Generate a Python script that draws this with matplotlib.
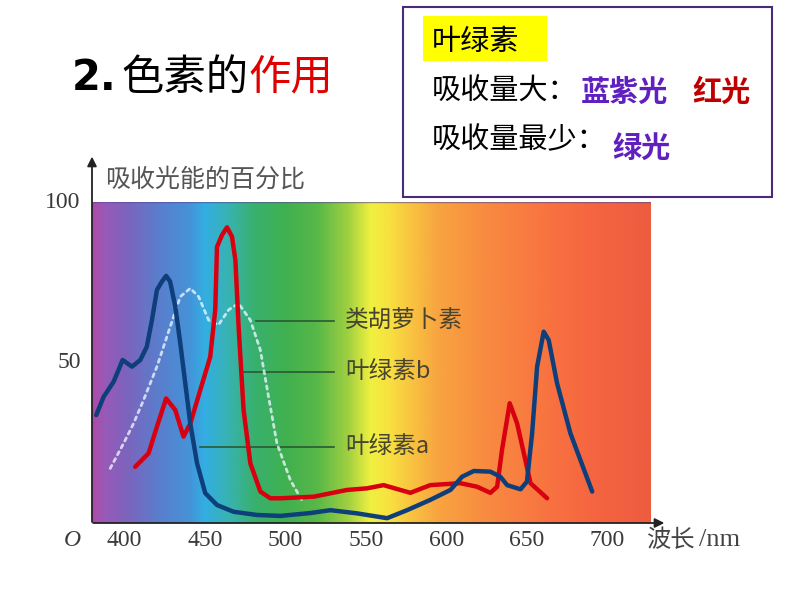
import numpy as np
import matplotlib
matplotlib.use("Agg")
import matplotlib.pyplot as plt
from matplotlib.colors import to_rgb
from matplotlib.patches import Rectangle

plt.rcParams['font.family'] = ['Noto Sans CJK SC', 'DejaVu Sans']

# ---------------- data ----------------
chl_a_nm = [382.6, 387.2, 393.4, 396.5, 399, 404.8, 410, 414, 417.2, 420.3, 423.4, 426, 428.5,
            431.7, 434.8, 437.9, 441, 445.2, 450.3, 457.6, 467.9, 482.4, 497, 503, 515.5, 528,
            544.5, 563.2, 575.6, 590, 602.5, 609.7, 617, 627.3, 633.5, 637.7, 646, 650, 653.2,
            656.3, 660.4, 663.5, 668.7, 677, 690.5]
chl_a_val = [33.6, 39.3, 44.0, 47.7, 50.8, 48.7, 50.8, 54.9, 63.2, 72.6, 75.2, 77, 75.2,
             67.4, 56, 43.5, 31, 18.6, 9.3, 5.6, 3.5, 2.5, 2.2, 2.5, 3.1, 4.0,
             3.0, 1.5, 4.0, 7.2, 10.3, 14.4, 16.2, 16, 14.4, 11.8, 10.5, 12.9, 27.9,
             48.7, 59.6, 57, 43.5, 27.9, 9.8]

chl_b_nm = [406.8, 415.1, 420.3, 426, 431.7, 436.8, 441, 447.2, 453.4, 456.5, 457.6, 460.7,
            463.8, 466.9, 469, 471, 474.1, 478.3, 484.5, 490.7, 497, 517.6, 538.3, 550.7, 561,
            577.6, 590, 608.7, 619, 627.3, 631.5, 634.5, 639.3, 643.9, 649, 652.2, 662.5]
chl_b_val = [17.5, 21.7, 30, 38.8, 35.2, 26.9, 31, 41.4, 51.8, 66.4, 86, 89.7,
             92.1, 89.2, 81.9, 61.2, 35.2, 18.6, 9.8, 7.7, 7.7, 8.2, 10.3, 10.8, 11.8,
             9.4, 11.8, 12.4, 11.3, 9.4, 11.3, 22.7, 37.3, 31, 19.6, 12.4, 7.7]

car_nm = [391.3, 399.6, 405.8, 412, 420.3, 428.6, 434.8, 441, 446.2, 452.4, 458.5, 464.8,
          471, 478.3, 484.5, 489.6, 494.8, 503.1, 511.4]
car_val = [17, 24.8, 31, 38.3, 48.7, 61.2, 70.5, 73.1, 70.5, 63.2, 61.7, 66.4,
           68.4, 63.2, 53.9, 39.3, 24.8, 13.4, 6.1]

x_ticks = [400, 450, 500, 550, 600, 650, 700]
y_ticks = [50, 100]
pigment_names = ['类胡萝卜素', '叶绿素b', '叶绿素a']
pigment_label_y = [62.8, 47.1, 23.8]
pigment_line_start = [482, 474, 447]

spec_nm = [380, 388, 400, 420, 440, 450, 465, 480, 500, 520, 539, 553, 565, 578, 595, 626, 668, 694, 727]
spec_col = ['#b04aa8', '#985ab8', '#7f62bc', '#5c7ccc', '#4692d8', '#33aee2', '#38b3b0', '#38b070',
            '#40b050', '#58b848', '#a0d040', '#f0f040', '#f8e040', '#f8c440', '#f8a440', '#f88a40',
            '#f87040', '#f56440', '#ee5c40']

# ---------------- figure ----------------
W, H = 794, 596
fig = plt.figure(figsize=(W / 100, H / 100), dpi=100)
fig.patch.set_facecolor('white')

L, R, T, B = 92, 651, 202, 523
ax = fig.add_axes([L / W, 1 - B / H, (R - L) / W, (B - T) / H])
ax.set_xlim(380, 727)
ax.set_ylim(0, 100)
ax.axis('off')

# rainbow background
xs = np.linspace(380, 727, 700)
rgb = np.array([to_rgb(c) for c in spec_col])
grad = np.stack([np.interp(xs, spec_nm, rgb[:, k]) for k in range(3)], axis=-1)
img = np.repeat(grad[None, :, :], 2, axis=0)
ax.imshow(img, extent=[380, 727, 0, 100], aspect='auto', origin='lower', zorder=0, interpolation='bilinear')
ax.plot([380, 727], [100, 100], color='#5a4a90', lw=1.0, alpha=0.6, zorder=1)

# axes arrows
ax.annotate('', xy=(380, 115), xytext=(380, -0.5),
            arrowprops=dict(arrowstyle='-|>', color='#222222', lw=1.3, mutation_scale=14),
            annotation_clip=False, zorder=5)
ax.annotate('', xy=(737, 0), xytext=(379, 0),
            arrowprops=dict(arrowstyle='-|>', color='#222222', lw=1.3, mutation_scale=14),
            annotation_clip=False, zorder=5)

# label leader lines and texts
for name, yv, xs0 in zip(pigment_names, pigment_label_y, pigment_line_start):
    ax.plot([xs0, 530], [yv, yv], color='#2a5a35', lw=1.2, zorder=2)
    ax.text(537, yv, name, fontsize=17, color='#48452e', va='center', ha='left', zorder=2)

# curves
ax.plot(car_nm, car_val, color='#e8f4ff', lw=2.0, ls=(0, (1.2, 1.6)), alpha=0.8, zorder=3,
        dash_capstyle='round')
ax.plot(chl_b_nm, chl_b_val, color='#d80010', lw=3.2, zorder=4, solid_joinstyle='round', solid_capstyle='round')
ax.plot(chl_a_nm, chl_a_val, color='#0e3f7a', lw=3.2, zorder=4, solid_joinstyle='round', solid_capstyle='round')

# tick labels
for xv in x_ticks:
    ax.text(xv, -5.3, str(xv), fontsize=17, family='Liberation Serif', color='#3a3a3a',
            ha='center', va='center', clip_on=False)
for yv in y_ticks:
    ax.text(373, yv, str(yv), fontsize=17, family='Liberation Serif', color='#3a3a3a',
            ha='right', va='center', clip_on=False)
ax.text(368, -5.3, 'O', fontsize=17, family='Liberation Serif', style='italic', color='#3a3a3a',
        ha='center', va='center', clip_on=False)
ax.text(724, -5.3, '波长', fontsize=17.5, color='#444444', ha='left', va='center', clip_on=False)
ax.text(757, -5.3, '/nm', fontsize=19, family='Liberation Serif', color='#444444',
        ha='left', va='center', clip_on=False)
ax.text(388, 107, '吸收光能的百分比', fontsize=18, color='#555555', ha='left', va='center', clip_on=False)

# title
ty = 1 - 78 / H
fig.text(72 / W, ty, '2.', fontsize=30, fontweight='bold', family='DejaVu Sans', color='black',
         ha='left', va='center')
fig.text(121 / W, ty, '色素的', fontsize=30.5, color='black', ha='left', va='center')
fig.text(248 / W, ty, '作用', fontsize=30.5, color='#e00000', ha='left', va='center')

# info box
fig.patches.append(Rectangle((403 / W, 1 - 197 / H), (772 - 403) / W, (197 - 7) / H,
                             transform=fig.transFigure, fill=False, edgecolor='#4a2a7a', lw=1.5))
fig.patches.append(Rectangle((423 / W, 1 - 61 / H), (547 - 423) / W, (61 - 16) / H,
                             transform=fig.transFigure, facecolor='#ffff00', edgecolor='none'))
fig.text(432 / W, 1 - 42 / H, '叶绿素', fontsize=21, color='black', ha='left', va='center')
fig.text(432 / W, 1 - 92 / H, '吸收量大：', fontsize=21, color='black', ha='left', va='center')
fig.text(581 / W, 1 - 92 / H, '蓝紫光', fontsize=21, color='#6020c0', fontweight='bold', ha='left', va='center')
fig.text(692 / W, 1 - 92 / H, '红光', fontsize=21, color='#c00000', fontweight='bold', ha='left', va='center')
fig.text(432 / W, 1 - 140 / H, '吸收量最少：', fontsize=21, color='black', ha='left', va='center')
fig.text(612 / W, 1 - 148 / H, '绿光', fontsize=21, color='#6020c0', fontweight='bold', ha='left', va='center')

fig.savefig('out.png', dpi=100, facecolor='white')
